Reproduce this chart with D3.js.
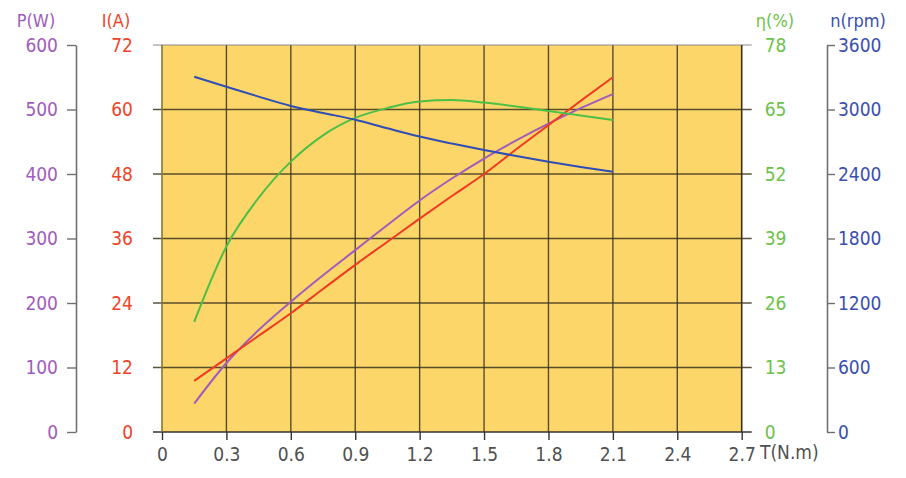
<!DOCTYPE html>
<html>
<head>
<meta charset="utf-8">
<script src="https://cdn.jsdelivr.net/npm/d3@7"></script>
<style>
  html, body { margin: 0; padding: 0; background: #fff; }
  svg text { font-family: "DejaVu Sans Condensed", "DejaVu Sans", sans-serif; font-size: 19px; }
</style>
</head>
<body>
<svg id="chart" width="906" height="478"></svg>
<script>
// torque points (N.m)
const torque = [0.15, 0.3, 0.45, 0.6, 0.75, 0.9, 1.05, 1.2, 1.35, 1.5, 1.65, 1.8, 1.95, 2.1]
const power = [44, 107, 158, 202, 243, 282, 321, 359, 393, 424, 452, 478, 502, 524]
const current = [9.5, 13.7, 17.9, 22.1, 26.6, 31.1, 35.4, 39.7, 43.9, 48.0, 52.6, 57.1, 61.6, 66.0]
const efficiency = [22.2, 37.4, 47.2, 54.5, 59.8, 63.3, 65.3, 66.6, 66.9, 66.4, 65.6, 64.7, 63.8, 62.9]
const speed = [3305, 3212, 3120, 3033, 2968, 2905, 2825, 2748, 2683, 2623, 2567, 2514, 2465, 2421]

const xTicks = [0, 0.3, 0.6, 0.9, 1.2, 1.5, 1.8, 2.1, 2.4, 2.7]
const pTicks = [0, 100, 200, 300, 400, 500, 600]
const iTicks = [0, 12, 24, 36, 48, 60, 72]
const eTicks = [0, 13, 26, 39, 52, 65, 78]
const nTicks = [0, 600, 1200, 1800, 2400, 3000, 3600]

const colors = {
  p: "#a05cbc",
  i: "#f0442a",
  e: "#6cc24a",
  n: "#3a4fb0",
  axis: "#707070",
  grid: "#3c3420",
  fill: "#fcd669"
}

const plotLeft = 162, plotRight = 741.7, plotTop = 45, plotBottom = 432

const x = d3.scaleLinear().domain([0, 2.7]).range([plotLeft, plotRight])
const yP = d3.scaleLinear().domain([0, 600]).range([plotBottom, plotTop])
const yI = d3.scaleLinear().domain([0, 72]).range([plotBottom, plotTop])
const yE = d3.scaleLinear().domain([0, 78]).range([plotBottom, plotTop])
const yN = d3.scaleLinear().domain([0, 3600]).range([plotBottom, plotTop])

const svg = d3.select("#chart")

// plot background
svg.append("rect")
  .attr("x", plotLeft).attr("y", plotTop)
  .attr("width", plotRight - plotLeft).attr("height", plotBottom - plotTop)
  .attr("fill", colors.fill)

// grid
const grid = svg.append("g")
  .attr("stroke", colors.grid)
  .attr("stroke-opacity", 0.85)
  .attr("stroke-width", 1.4)

grid.selectAll("line.v")
  .data(xTicks.slice(1, -1))
  .join("line")
  .attr("class", "v")
  .attr("x1", d => x(d)).attr("x2", d => x(d))
  .attr("y1", plotTop).attr("y2", plotBottom)

grid.selectAll("line.h")
  .data(iTicks.slice(1, -1))
  .join("line")
  .attr("class", "h")
  .attr("x1", plotLeft - 9).attr("x2", plotRight + 10)
  .attr("y1", d => yI(d)).attr("y2", d => yI(d))

// plot frame
svg.append("line")
  .attr("x1", plotLeft - 9).attr("x2", plotRight + 10)
  .attr("y1", plotTop).attr("y2", plotTop)
  .attr("stroke", "#8a8a8a").attr("stroke-width", 1.2)
svg.append("line")
  .attr("x1", plotLeft - 9).attr("x2", plotRight + 10)
  .attr("y1", plotBottom).attr("y2", plotBottom)
  .attr("stroke", "#333").attr("stroke-width", 1.4)
svg.append("line")
  .attr("x1", plotLeft).attr("x2", plotLeft)
  .attr("y1", plotTop).attr("y2", plotBottom)
  .attr("stroke", "#8a7436").attr("stroke-width", 1.6)
svg.append("line")
  .attr("x1", plotRight).attr("x2", plotRight)
  .attr("y1", plotTop).attr("y2", plotBottom)
  .attr("stroke", "#3a3020").attr("stroke-width", 1.6)

// axes
function styleAxis(g, color, lineColor) {
  g.select(".domain").attr("stroke", lineColor).attr("stroke-width", 1.6)
  g.selectAll(".tick line").attr("stroke", lineColor).attr("stroke-width", 1.4)
  g.selectAll(".tick text").attr("fill", color).style("font-size", "19px")
    .style("font-family", "\"DejaVu Sans Condensed\", \"DejaVu Sans\", sans-serif")
}

// P(W) axis with a visible spine
svg.append("g")
  .attr("transform", "translate(76,0)")
  .call(d3.axisLeft(yP).tickValues(pTicks).tickSize(9).tickPadding(9).tickSizeOuter(0))
  .call(g => styleAxis(g, colors.p, colors.axis))

// I(A) axis, labels only (ticks come from the grid lines)
svg.append("g")
  .attr("transform", `translate(${plotLeft},0)`)
  .call(d3.axisLeft(yI).tickValues(iTicks).tickSize(9).tickPadding(20).tickSizeOuter(0))
  .call(g => styleAxis(g, colors.i, "#333"))
  .call(g => g.select(".domain").remove())
  .call(g => g.selectAll(".tick line").remove())

// η(%) axis
svg.append("g")
  .attr("transform", `translate(${plotRight},0)`)
  .call(d3.axisRight(yE).tickValues(eTicks).tickSize(10).tickPadding(13).tickSizeOuter(0))
  .call(g => styleAxis(g, colors.e, "#333"))
  .call(g => g.select(".domain").remove())
  .call(g => g.selectAll(".tick line").remove())

// n(rpm) axis
svg.append("g")
  .attr("transform", "translate(827,0)")
  .call(d3.axisRight(yN).tickValues(nTicks).tickFormat(d3.format("d")).tickSize(8).tickPadding(3).tickSizeOuter(0))
  .call(g => styleAxis(g, colors.n, colors.axis))

// T axis
svg.append("g")
  .attr("transform", `translate(0,${plotBottom})`)
  .call(d3.axisBottom(x).tickValues(xTicks).tickFormat(d3.format("")).tickSize(8).tickPadding(8).tickSizeOuter(0))
  .call(g => styleAxis(g, "#505050", "#333"))
  .call(g => g.select(".domain").remove())

// axis titles
const titles = [
  { text: "P(W)", x: 36, color: colors.p },
  { text: "I(A)", x: 116, color: colors.i },
  { text: "η(%)", x: 775, color: colors.e },
  { text: "n(rpm)", x: 858, color: colors.n }
]
svg.selectAll("text.title")
  .data(titles)
  .join("text")
  .attr("class", "title")
  .attr("x", d => d.x).attr("y", 27)
  .attr("text-anchor", "middle")
  .attr("fill", d => d.color)
  .style("font-size", "18px")
  .text(d => d.text)

svg.append("text")
  .attr("x", 760).attr("y", 459)
  .attr("fill", "#505050")
  .text("T(N.m)")

// curves
const series = [
  { values: power, scale: yP, color: colors.p },
  { values: current, scale: yI, color: "#f03a22" },
  { values: efficiency, scale: yE, color: "#4cbf46" },
  { values: speed, scale: yN, color: "#2f4db4" }
]

series.forEach(s => {
  const line = d3.line()
    .x((d, i) => x(torque[i]))
    .y(d => s.scale(d))
    .curve(d3.curveMonotoneX)
  svg.append("path")
    .datum(s.values)
    .attr("d", line)
    .attr("fill", "none")
    .attr("stroke", s.color)
    .attr("stroke-width", 2)
})
</script>
</body>
</html>
